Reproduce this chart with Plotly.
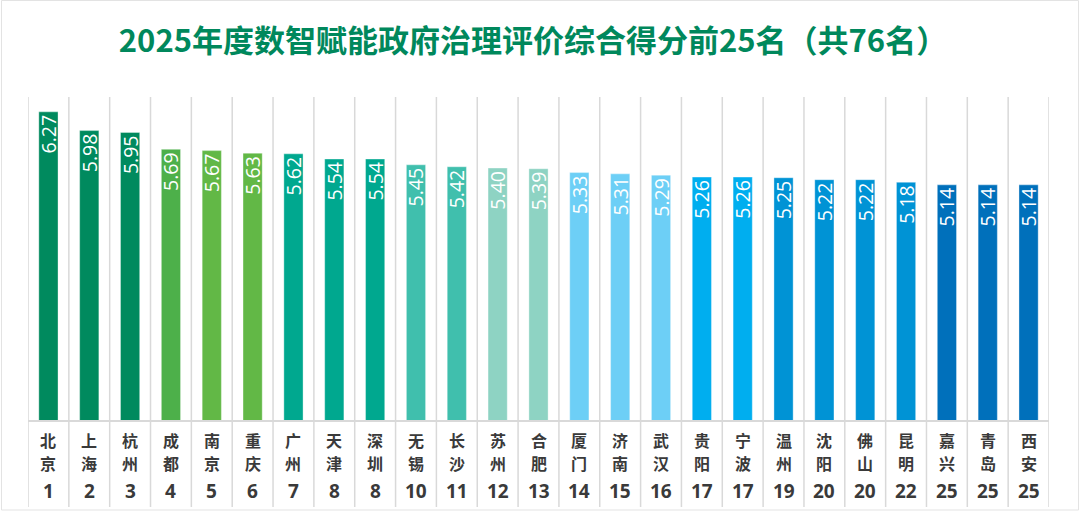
import plotly.graph_objects as go

title_text = "2025年度数智赋能政府治理评价综合得分前25名（共76名）"
cities = ["北京", "上海", "杭州", "成都", "南京", "重庆", "广州", "天津", "深圳", "无锡",
          "长沙", "苏州", "合肥", "厦门", "济南", "武汉", "贵阳", "宁波", "温州", "沈阳",
          "佛山", "昆明", "嘉兴", "青岛", "西安"]
scores = [6.27, 5.98, 5.95, 5.69, 5.67, 5.63, 5.62, 5.54, 5.54, 5.45,
          5.42, 5.40, 5.39, 5.33, 5.31, 5.29, 5.26, 5.26, 5.25, 5.22,
          5.22, 5.18, 5.14, 5.14, 5.14]
ranks = ["1", "2", "3", "4", "5", "6", "7", "8", "8", "10",
         "11", "12", "13", "14", "15", "16", "17", "17", "19", "20",
         "20", "22", "25", "25", "25"]
bar_colors = ["#008A5E", "#008A5E", "#008A5E", "#4DB04A", "#62B846", "#62B846",
              "#00A88F", "#00A88F", "#00A88F", "#40BFAD", "#40BFAD", "#8ED3C3",
              "#8ED3C3", "#6DCFF6", "#6DCFF6", "#6DCFF6", "#00AEEF", "#00AEEF",
              "#0093D5", "#0093D5", "#0093D5", "#0093D5", "#0070BB", "#0070BB", "#0070BB"]

W, H = 1080, 513
L, R, T, B = 28, 31, 97, 93
plot_h = H - T - B
plot_w = W - L - R


def py(pix):
    return (H - B - pix) / plot_h


def px(pix):
    return (pix - L) / plot_w


fig = go.Figure()
fig.add_trace(go.Bar(
    x=cities, y=scores,
    width=0.47,
    marker=dict(color=bar_colors, line=dict(color="rgba(255,255,255,0.35)", width=1)),
    text=[f"{v:.2f}" for v in scores],
    textposition="inside",
    insidetextanchor="end",
    textangle=-90,
    textfont=dict(family="Open Sans", size=19.5, color="white"),
    hoverinfo="skip",
))

shapes = []
for i in range(len(cities) + 1):
    shapes.append(dict(type="line", xref="x", yref="paper",
                       x0=i - 0.5, x1=i - 0.5, y0=py(507), y1=1,
                       line=dict(color="#D9D9D9", width=1.5), layer="below"))
shapes.append(dict(type="rect", xref="paper", yref="paper",
                   x0=px(1.5), x1=px(1078.5), y0=py(510), y1=py(0.5),
                   line=dict(color="#E3E3E3", width=1)))

name_font = dict(family="Noto Sans CJK SC", size=16, color="#3A3A3A")
annotations = []
for c, r in zip(cities, ranks):
    annotations.append(dict(x=c, xref="x", yref="paper", y=py(439.5), text=f"<b>{c[0]}</b>",
                            showarrow=False, yanchor="middle", font=name_font))
    annotations.append(dict(x=c, xref="x", yref="paper", y=py(463), text=f"<b>{c[1]}</b>",
                            showarrow=False, yanchor="middle", font=name_font))
    annotations.append(dict(x=c, xref="x", yref="paper", y=py(490.5), text=f"<b>{r}</b>",
                            showarrow=False, yanchor="middle",
                            font=dict(family="Open Sans", size=19, color="#3A3A3A")))

fig.update_layout(
    width=W, height=H,
    margin=dict(l=L, r=R, t=T, b=B),
    paper_bgcolor="white", plot_bgcolor="white",
    title=dict(text=f"<b>{title_text}</b>", x=533 / W, xanchor="center", xref="container",
               y=1 - 41 / H, yanchor="middle", yref="container",
               font=dict(family="Noto Sans CJK SC", size=31, color="#00885C")),
    xaxis=dict(showticklabels=False, ticks="", showgrid=False, zeroline=False,
               showline=True, linecolor="#D9D9D9", linewidth=1.5, range=[-0.5, 24.5]),
    yaxis=dict(range=[1.5, 6.5], visible=False, showgrid=False, zeroline=False),
    shapes=shapes, annotations=annotations,
    uniformtext=dict(minsize=19.5, mode="show"),
    showlegend=False, bargap=0.5,
)

fig.write_html("out.html", config={"displayModeBar": False},
               post_script="document.body.style.margin='0';document.body.style.overflow='hidden';")
